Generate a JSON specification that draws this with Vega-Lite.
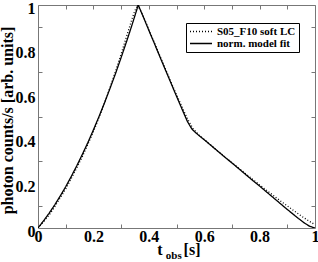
{
  "$schema": "https://vega.github.io/schema/vega-lite/v6.json",
  "width": 277,
  "height": 223,
  "autosize": "none",
  "padding": {"left": 38, "top": 5, "right": 3, "bottom": 34},
  "background": "white",
  "config": {
    "view": {"stroke": null},
    "font": "Liberation Serif",
    "axis": {
      "domainColor": "#777777",
      "tickColor": "#777777",
      "grid": false,
      "labelFont": "Liberation Serif",
      "labelFontWeight": "bold",
      "labelFontSize": 16,
      "labelColor": "black",
      "titleFont": "Liberation Serif",
      "titleFontWeight": "bold",
      "titleFontSize": 16,
      "titleColor": "black",
      "tickSize": -4,
      "labelPadding": 6
    },
    "legend": {
      "title": null,
      "orient": "none",
      "legendX": 148,
      "legendY": 18,
      "padding": 3,
      "strokeColor": "black",
      "fillColor": "white",
      "symbolType": "stroke",
      "symbolSize": 484,
      "symbolStrokeWidth": 1.3,
      "symbolStrokeColor": "black",
      "labelFont": "Liberation Serif",
      "labelFontWeight": "bold",
      "labelFontSize": 11,
      "labelColor": "black",
      "labelOffset": 4,
      "clipHeight": 11,
      "rowPadding": 0
    }
  },
  "datasets": {
    "curves": [
      {"t": 0.00, "v": 0.000, "s": "S05_F10 soft LC"},
      {"t": 0.02, "v": 0.028, "s": "S05_F10 soft LC"},
      {"t": 0.04, "v": 0.058, "s": "S05_F10 soft LC"},
      {"t": 0.06, "v": 0.095, "s": "S05_F10 soft LC"},
      {"t": 0.08, "v": 0.135, "s": "S05_F10 soft LC"},
      {"t": 0.10, "v": 0.175, "s": "S05_F10 soft LC"},
      {"t": 0.12, "v": 0.222, "s": "S05_F10 soft LC"},
      {"t": 0.14, "v": 0.270, "s": "S05_F10 soft LC"},
      {"t": 0.16, "v": 0.320, "s": "S05_F10 soft LC"},
      {"t": 0.18, "v": 0.375, "s": "S05_F10 soft LC"},
      {"t": 0.20, "v": 0.432, "s": "S05_F10 soft LC"},
      {"t": 0.22, "v": 0.494, "s": "S05_F10 soft LC"},
      {"t": 0.24, "v": 0.560, "s": "S05_F10 soft LC"},
      {"t": 0.26, "v": 0.630, "s": "S05_F10 soft LC"},
      {"t": 0.28, "v": 0.703, "s": "S05_F10 soft LC"},
      {"t": 0.30, "v": 0.780, "s": "S05_F10 soft LC"},
      {"t": 0.32, "v": 0.860, "s": "S05_F10 soft LC"},
      {"t": 0.34, "v": 0.940, "s": "S05_F10 soft LC"},
      {"t": 0.35, "v": 0.975, "s": "S05_F10 soft LC"},
      {"t": 0.36, "v": 1.000, "s": "S05_F10 soft LC"},
      {"t": 0.38, "v": 0.950, "s": "S05_F10 soft LC"},
      {"t": 0.40, "v": 0.890, "s": "S05_F10 soft LC"},
      {"t": 0.42, "v": 0.832, "s": "S05_F10 soft LC"},
      {"t": 0.44, "v": 0.772, "s": "S05_F10 soft LC"},
      {"t": 0.46, "v": 0.713, "s": "S05_F10 soft LC"},
      {"t": 0.48, "v": 0.655, "s": "S05_F10 soft LC"},
      {"t": 0.50, "v": 0.598, "s": "S05_F10 soft LC"},
      {"t": 0.52, "v": 0.542, "s": "S05_F10 soft LC"},
      {"t": 0.54, "v": 0.488, "s": "S05_F10 soft LC"},
      {"t": 0.56, "v": 0.445, "s": "S05_F10 soft LC"},
      {"t": 0.58, "v": 0.418, "s": "S05_F10 soft LC"},
      {"t": 0.60, "v": 0.397, "s": "S05_F10 soft LC"},
      {"t": 0.62, "v": 0.376, "s": "S05_F10 soft LC"},
      {"t": 0.64, "v": 0.354, "s": "S05_F10 soft LC"},
      {"t": 0.66, "v": 0.334, "s": "S05_F10 soft LC"},
      {"t": 0.68, "v": 0.313, "s": "S05_F10 soft LC"},
      {"t": 0.70, "v": 0.293, "s": "S05_F10 soft LC"},
      {"t": 0.72, "v": 0.273, "s": "S05_F10 soft LC"},
      {"t": 0.74, "v": 0.253, "s": "S05_F10 soft LC"},
      {"t": 0.76, "v": 0.233, "s": "S05_F10 soft LC"},
      {"t": 0.78, "v": 0.213, "s": "S05_F10 soft LC"},
      {"t": 0.80, "v": 0.193, "s": "S05_F10 soft LC"},
      {"t": 0.82, "v": 0.174, "s": "S05_F10 soft LC"},
      {"t": 0.84, "v": 0.155, "s": "S05_F10 soft LC"},
      {"t": 0.86, "v": 0.136, "s": "S05_F10 soft LC"},
      {"t": 0.88, "v": 0.117, "s": "S05_F10 soft LC"},
      {"t": 0.90, "v": 0.099, "s": "S05_F10 soft LC"},
      {"t": 0.92, "v": 0.081, "s": "S05_F10 soft LC"},
      {"t": 0.94, "v": 0.063, "s": "S05_F10 soft LC"},
      {"t": 0.96, "v": 0.046, "s": "S05_F10 soft LC"},
      {"t": 0.98, "v": 0.030, "s": "S05_F10 soft LC"},
      {"t": 1.00, "v": 0.015, "s": "S05_F10 soft LC"},
      {"t": 0.00, "v": 0.000, "s": "norm. model fit"},
      {"t": 0.02, "v": 0.032, "s": "norm. model fit"},
      {"t": 0.04, "v": 0.066, "s": "norm. model fit"},
      {"t": 0.06, "v": 0.103, "s": "norm. model fit"},
      {"t": 0.08, "v": 0.143, "s": "norm. model fit"},
      {"t": 0.10, "v": 0.185, "s": "norm. model fit"},
      {"t": 0.12, "v": 0.231, "s": "norm. model fit"},
      {"t": 0.14, "v": 0.279, "s": "norm. model fit"},
      {"t": 0.16, "v": 0.330, "s": "norm. model fit"},
      {"t": 0.18, "v": 0.383, "s": "norm. model fit"},
      {"t": 0.20, "v": 0.440, "s": "norm. model fit"},
      {"t": 0.22, "v": 0.499, "s": "norm. model fit"},
      {"t": 0.24, "v": 0.561, "s": "norm. model fit"},
      {"t": 0.26, "v": 0.626, "s": "norm. model fit"},
      {"t": 0.28, "v": 0.693, "s": "norm. model fit"},
      {"t": 0.30, "v": 0.764, "s": "norm. model fit"},
      {"t": 0.32, "v": 0.837, "s": "norm. model fit"},
      {"t": 0.34, "v": 0.913, "s": "norm. model fit"},
      {"t": 0.36, "v": 0.992, "s": "norm. model fit"},
      {"t": 0.362, "v": 1.000, "s": "norm. model fit"},
      {"t": 0.38, "v": 0.947, "s": "norm. model fit"},
      {"t": 0.40, "v": 0.887, "s": "norm. model fit"},
      {"t": 0.42, "v": 0.828, "s": "norm. model fit"},
      {"t": 0.44, "v": 0.768, "s": "norm. model fit"},
      {"t": 0.46, "v": 0.709, "s": "norm. model fit"},
      {"t": 0.48, "v": 0.650, "s": "norm. model fit"},
      {"t": 0.50, "v": 0.591, "s": "norm. model fit"},
      {"t": 0.52, "v": 0.533, "s": "norm. model fit"},
      {"t": 0.54, "v": 0.476, "s": "norm. model fit"},
      {"t": 0.555, "v": 0.445, "s": "norm. model fit"},
      {"t": 0.565, "v": 0.432, "s": "norm. model fit"},
      {"t": 0.58, "v": 0.416, "s": "norm. model fit"},
      {"t": 0.60, "v": 0.396, "s": "norm. model fit"},
      {"t": 0.62, "v": 0.375, "s": "norm. model fit"},
      {"t": 0.64, "v": 0.354, "s": "norm. model fit"},
      {"t": 0.66, "v": 0.333, "s": "norm. model fit"},
      {"t": 0.68, "v": 0.312, "s": "norm. model fit"},
      {"t": 0.70, "v": 0.292, "s": "norm. model fit"},
      {"t": 0.72, "v": 0.271, "s": "norm. model fit"},
      {"t": 0.74, "v": 0.250, "s": "norm. model fit"},
      {"t": 0.76, "v": 0.229, "s": "norm. model fit"},
      {"t": 0.78, "v": 0.208, "s": "norm. model fit"},
      {"t": 0.80, "v": 0.188, "s": "norm. model fit"},
      {"t": 0.82, "v": 0.167, "s": "norm. model fit"},
      {"t": 0.84, "v": 0.146, "s": "norm. model fit"},
      {"t": 0.86, "v": 0.125, "s": "norm. model fit"},
      {"t": 0.88, "v": 0.104, "s": "norm. model fit"},
      {"t": 0.90, "v": 0.083, "s": "norm. model fit"},
      {"t": 0.92, "v": 0.063, "s": "norm. model fit"},
      {"t": 0.94, "v": 0.043, "s": "norm. model fit"},
      {"t": 0.96, "v": 0.024, "s": "norm. model fit"},
      {"t": 0.98, "v": 0.008, "s": "norm. model fit"},
      {"t": 1.00, "v": 0.000, "s": "norm. model fit"}
    ],
    "xtitle": [
      {"t": 0.44, "v": -0.121, "label": "t"},
      {"t": 0.556, "v": -0.121, "label": "[s]"}
    ],
    "xsub": [
      {"t": 0.490, "v": -0.140, "label": "obs"}
    ]
  },
  "layer": [
    {
      "data": {"name": "curves"},
      "mark": {"type": "line", "color": "black", "strokeWidth": 1.3, "clip": true},
      "encoding": {
        "x": {
          "field": "t", "type": "quantitative",
          "scale": {"domain": [0, 1], "nice": false, "zero": false},
          "axis": {
            "orient": "bottom", "title": null,
            "values": [0, 0.1, 0.2, 0.3, 0.4, 0.5, 0.6, 0.7, 0.8, 0.9, 1],
            "format": "~g",
            "labelExpr": "round(datum.value*10)%2==0 ? datum.label : ''",
            "tickOpacity": {"condition": {"test": "round(datum.value*10)%2==1", "value": 1}, "value": 0},
            "labelFlush": false,
            "labelPadding": 4
          }
        },
        "y": {
          "field": "v", "type": "quantitative",
          "scale": {"domain": [0, 1], "nice": false, "zero": false},
          "axis": {
            "orient": "left", "title": "photon counts/s [arb. units]",
            "values": [0, 0.1, 0.2, 0.3, 0.4, 0.5, 0.6, 0.7, 0.8, 0.9, 1],
            "format": "~g",
            "labelExpr": "round(datum.value*10)%2==0 ? datum.label : ''",
            "tickOpacity": {"condition": {"test": "round(datum.value*10)%2==1", "value": 1}, "value": 0},
            "labelFlush": false,
            "labelOffset": 3,
            "labelPadding": 7,
            "titlePadding": 0,
            "titleY": 115
          }
        },
        "strokeDash": {
          "field": "s", "type": "nominal",
          "scale": {"domain": ["S05_F10 soft LC", "norm. model fit"], "range": [[1, 2], [1, 0]]}
        }
      }
    },
    {
      "data": {"name": "xtitle"},
      "mark": {"type": "text", "fontSize": 16, "fontWeight": "bold", "font": "Liberation Serif", "baseline": "alphabetic", "align": "center", "color": "black", "clip": false},
      "encoding": {
        "x": {
          "field": "t", "type": "quantitative",
          "axis": {
            "orient": "top", "title": null, "labels": false,
            "values": [0, 0.1, 0.2, 0.3, 0.4, 0.5, 0.6, 0.7, 0.8, 0.9, 1]
          }
        },
        "y": {
          "field": "v", "type": "quantitative",
          "axis": {
            "orient": "right", "title": null, "labels": false,
            "values": [0.1, 0.3, 0.5, 0.7, 0.9, 0, 1],
            "tickOpacity": {"condition": {"test": "round(datum.value*10)%2==1", "value": 1}, "value": 0}
          }
        },
        "text": {"field": "label"}
      }
    },
    {
      "data": {"name": "xsub"},
      "mark": {"type": "text", "fontSize": 11, "fontWeight": "bold", "font": "Liberation Serif", "baseline": "alphabetic", "align": "center", "color": "black", "clip": false},
      "encoding": {
        "x": {"field": "t", "type": "quantitative", "axis": null},
        "y": {"field": "v", "type": "quantitative", "axis": null},
        "text": {"field": "label"}
      }
    }
  ],
  "resolve": {"axis": {"x": "independent", "y": "independent"}}
}
